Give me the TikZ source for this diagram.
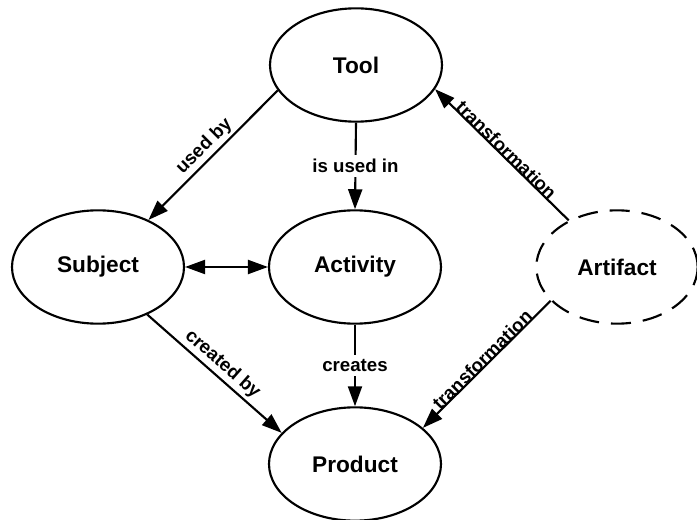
\documentclass[tikz,border=0pt]{standalone}
\usepackage{fontspec}
\setmainfont{Liberation Sans}
\usetikzlibrary{arrows.meta,shapes.geometric}
\begin{document}
\begin{tikzpicture}[
    x=0.75pt, y=-0.75pt,
    every node/.style={font=\bfseries},
    concept/.style={draw, ellipse, line width=1.6pt, minimum width=129pt, minimum height=85pt, font=\fontsize{17}{20}\bfseries},
    open/.style={dash pattern=on 15pt off 9pt},
    rel/.style={line width=1.6pt, -{Triangle[length=15pt,width=10.5pt]}},
    tag/.style={font=\fontsize{14}{16}\bfseries, sloped, above, inner sep=2pt},
    midtag/.style={font=\fontsize{14}{16}\bfseries, fill=white, inner sep=3pt},
    transtag/.style={tag, yshift=-3pt},
  ]
    \useasboundingbox (0,0) rectangle (697,520);

    \node[concept] (tool) at (356,65) {Tool};
    \node[concept] (subject) at (98,267) {Subject};
    \node[concept] (activity) at (355,267) {Activity};
    \node[concept, open, minimum width=121pt] (artifact) at (617,267) {Artifact};
    \node[concept] (product) at (355,464) {Product};

    \draw[rel] (tool.198) -- node[tag] {used by} (subject.43);
    \draw[rel] (tool.south) -- node[midtag] {is used in} (activity.north);
    \draw[rel, {Triangle[length=15pt,width=10.5pt]}-{Triangle[length=15pt,width=10.5pt]}] (subject.east) -- (activity.west);
    \draw[rel] (activity.south) -- node[midtag] {creates} (product.north);
    \draw[rel] (subject.316) -- node[tag] {created by} (product.157);
    \draw[rel] (artifact.136) -- node[transtag] {transformation} (tool.343);
    \draw[rel] (artifact.207) -- node[transtag] {transformation} (product.28);
\end{tikzpicture}
\end{document}
